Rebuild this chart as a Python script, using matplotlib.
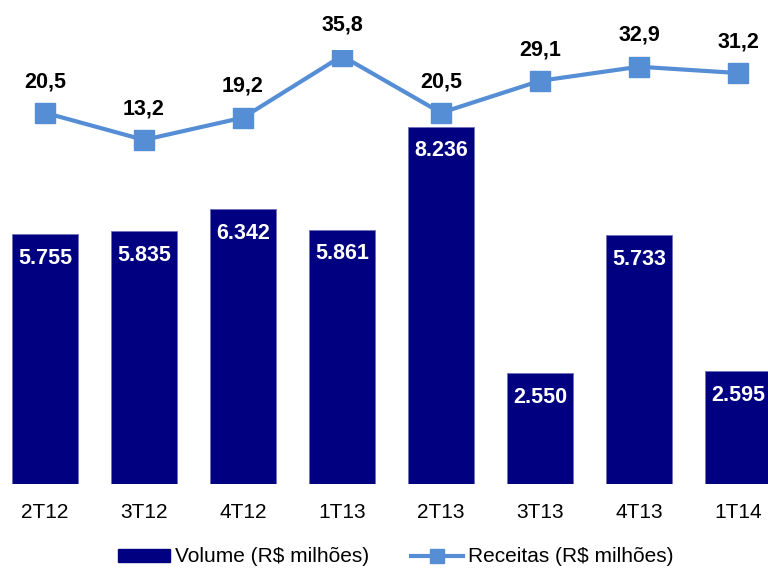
import matplotlib
matplotlib.use("Agg")
import matplotlib.pyplot as plt
from matplotlib.lines import Line2D
from matplotlib.patches import Patch

plt.rcParams['font.family'] = ['Liberation Sans', 'DejaVu Sans']

quarters = ["2T12", "3T12", "4T12", "1T13", "2T13", "3T13", "4T13", "1T14"]
volume = [5755, 5835, 6342, 5861, 8236, 2550, 5733, 2595]
receitas = [20.5, 13.2, 19.2, 35.8, 20.5, 29.1, 32.9, 31.2]

bar_color = "#000080"
line_color = "#558ED5"

def fmt_int(v):
    return f"{v:,}".replace(",", ".")

def fmt_dec(v):
    return f"{v:.1f}".replace(".", ",")

fig = plt.figure(figsize=(7.68, 5.70), dpi=100)
W, H = 768, 570
ax = fig.add_axes([-4.5 / W, 86 / H, 792 / W, 434 / H])
x = list(range(len(quarters)))

ax.bar(x, volume, width=0.67, color=bar_color, edgecolor="#7070b8", linewidth=0.6, zorder=2)
ax.set_xlim(-0.5, len(quarters) - 0.5)
ax.set_ylim(0, 10000)
for xi, v in zip(x, volume):
    ax.annotate(fmt_int(v), (xi, v), xytext=(0, -17.5), textcoords="offset points",
                ha="center", va="center", color="white", fontsize=15.5, fontweight="bold")

ax.set_xticks(x)
ax.set_xticklabels(quarters, fontsize=15)
ax.tick_params(axis="x", length=0, pad=14)
ax.set_yticks([])
for s in ax.spines.values():
    s.set_visible(False)

ax2 = ax.twinx()
ax2.set_ylim(-79.4, 37.4)
ax2.plot(x, receitas, color=line_color, linewidth=3, marker="s", markersize=14,
         markerfacecolor=line_color, markeredgecolor=line_color, zorder=3)
for xi, v in zip(x, receitas):
    ax2.annotate(fmt_dec(v), (xi, v), xytext=(0, 22.5), textcoords="offset points",
                 ha="center", va="center", color="black", fontsize=15.5, fontweight="bold")
ax2.set_yticks([])
for s in ax2.spines.values():
    s.set_visible(False)

handles = [
    Patch(facecolor=bar_color, edgecolor=bar_color, label="Volume (R$ milhões)"),
    Line2D([0], [0], color=line_color, linewidth=3, marker="s", markersize=10,
           label="Receitas (R$ milhões)"),
]
fig.legend(handles=handles, loc="center", bbox_to_anchor=(395.5 / W, 13 / H), ncol=2,
           frameon=False, fontsize=15, handlelength=2.5, handletextpad=0.25,
           columnspacing=2.0, handleheight=0.6)

fig.savefig("out.png", dpi=100)
